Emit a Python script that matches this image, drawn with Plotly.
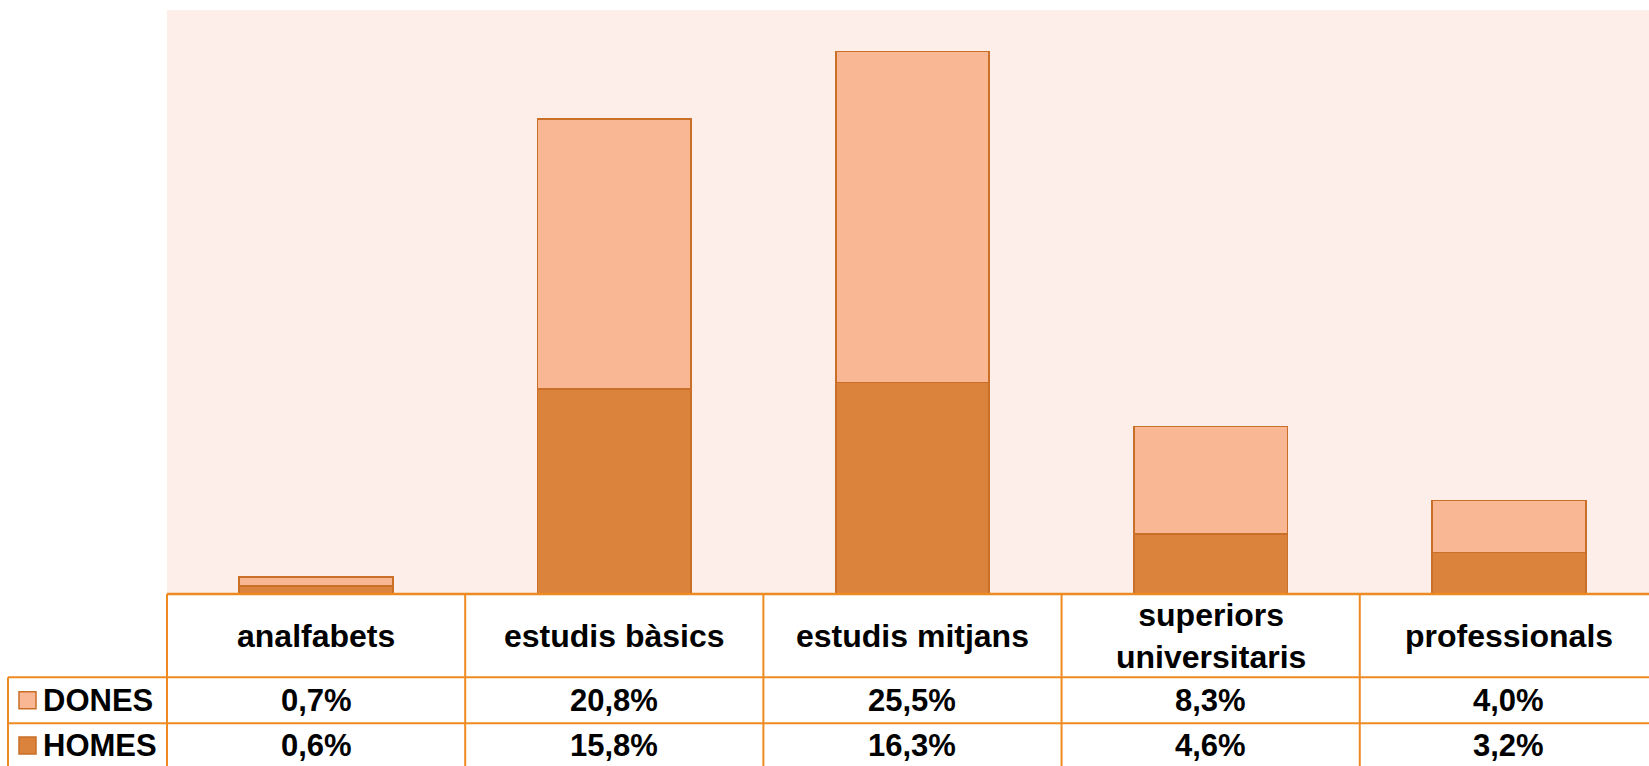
import plotly.graph_objects as go

# ---- data ----
categories = ["analfabets", "estudis bàsics", "estudis mitjans",
              "superiors<br>universitaris", "professionals"]
series_names = ["DONES", "HOMES"]
dones = [0.7, 20.8, 25.5, 8.3, 4.0]
homes = [0.6, 15.8, 16.3, 4.6, 3.2]

# ---- styles ----
W, H = 1649, 766
ML, MR, MT, MB = 167, 0, 10, 172
PLOT_H = H - MT - MB
BASE_PX = H - MB
XR = [-0.5, 4.47]
YR = [0, 45]

C_DONES = "#F9B794"
C_HOMES = "#DB833D"
C_EDGE = "#C96F27"
C_GRID = "#EE8A22"
FONT = "Liberation Sans"
FS = 31
FS_HEAD = 32

def fmt(v):
    return f"{v:.1f}".replace(".", ",") + "%"

def xpaper(xv):
    return (xv - XR[0]) / (XR[1] - XR[0])

def ypx(px):
    return (BASE_PX - px) / PLOT_H

def xpx(px):
    return (px - ML) / (W - ML - MR)

xs = list(range(len(categories)))

fig = go.Figure()
fig.add_trace(go.Bar(x=xs, y=homes, name="HOMES", width=0.515,
                     marker=dict(color=C_HOMES, line=dict(color=C_EDGE, width=1.8)),
                     hoverinfo="skip"))
fig.add_trace(go.Bar(x=xs, y=dones, name="DONES", width=0.515,
                     marker=dict(color=C_DONES, line=dict(color=C_EDGE, width=1.8)),
                     hoverinfo="skip"))

shapes = []
annotations = []

y_head_bot = ypx(677.3)
y_dones_bot = ypx(723.3)
y_bottom = ypx(772)

# column dividers in table
for i in range(len(categories) + 1):
    xv = xpaper(i - 0.5)
    if xv > 1.001:
        continue
    shapes.append(dict(type="line", xref="paper", yref="paper",
                       x0=xv, x1=xv, y0=0, y1=y_bottom,
                       line=dict(color=C_GRID, width=2)))
# left column border
x_left = xpx(8)
shapes.append(dict(type="line", xref="paper", yref="paper",
                   x0=x_left, x1=x_left, y0=y_head_bot, y1=y_bottom,
                   line=dict(color=C_GRID, width=2)))
# horizontal lines
for yv in (y_head_bot, y_dones_bot):
    shapes.append(dict(type="line", xref="paper", yref="paper",
                       x0=x_left, x1=1, y0=yv, y1=yv,
                       line=dict(color=C_GRID, width=2)))
# baseline
shapes.append(dict(type="line", xref="paper", yref="paper",
                   x0=0, x1=1, y0=0, y1=0,
                   line=dict(color=C_GRID, width=2.5)))

# header labels
for i, c in enumerate(categories):
    annotations.append(dict(x=i, xref="x", y=ypx(636), yref="paper",
                            text=c, showarrow=False, xanchor="center", yanchor="middle",
                            font=dict(family=FONT, size=FS_HEAD, color="#000", weight="bold")))

rows = [("DONES", dones, C_DONES, 700.3), ("HOMES", homes, C_HOMES, 745.5)]
for name, vals, col, cy in rows:
    for i, v in enumerate(vals):
        annotations.append(dict(x=i, xref="x", y=ypx(cy), yref="paper",
                                text=fmt(v), showarrow=False, xanchor="center", yanchor="middle",
                                font=dict(family=FONT, size=FS, color="#000", weight="bold")))
    shapes.append(dict(type="rect", xref="paper", yref="paper",
                       x0=xpx(19), x1=xpx(36), y0=ypx(cy - 8.5), y1=ypx(cy + 8.5),
                       fillcolor=col, line=dict(color=C_EDGE, width=1.5)))
    annotations.append(dict(x=xpx(41), xref="paper", y=ypx(cy), yref="paper",
                            text=name, showarrow=False, xanchor="left", yanchor="middle",
                            font=dict(family=FONT, size=FS, color="#000", weight="bold")))

fig.update_layout(
    width=W, height=H,
    margin=dict(l=ML, r=MR, t=MT, b=MB, pad=0),
    barmode="stack",
    showlegend=False,
    paper_bgcolor="white",
    plot_bgcolor="#FDEEEA",
    xaxis=dict(range=XR, showticklabels=False, showgrid=False, zeroline=False,
               showline=False, ticks=""),
    yaxis=dict(range=YR, visible=False, showgrid=False, zeroline=False),
    shapes=shapes,
    annotations=annotations,
)

fig.write_html("out.html", config={"displayModeBar": False},
               post_script="document.body.style.margin='0';document.body.style.overflow='hidden';")
